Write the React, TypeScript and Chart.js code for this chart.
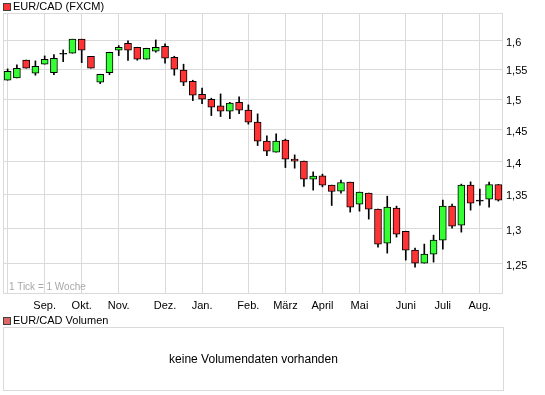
import React, { useEffect, useRef } from 'react';
import { Chart, registerables } from 'chart.js';

Chart.register(...registerables);

// Weekly candles (week start dates)
const weeks = [
  '2009-08-03', '2009-08-10', '2009-08-17', '2009-08-24', '2009-08-31', '2009-09-07', '2009-09-14', '2009-09-21',
  '2009-09-28', '2009-10-05', '2009-10-12', '2009-10-19', '2009-10-26', '2009-11-02', '2009-11-09', '2009-11-16',
  '2009-11-23', '2009-11-30', '2009-12-07', '2009-12-14', '2009-12-21', '2009-12-28', '2010-01-04', '2010-01-11',
  '2010-01-18', '2010-01-25', '2010-02-01', '2010-02-08', '2010-02-15', '2010-02-22', '2010-03-01', '2010-03-08',
  '2010-03-15', '2010-03-22', '2010-03-29', '2010-04-05', '2010-04-12', '2010-04-19', '2010-04-26', '2010-05-03',
  '2010-05-10', '2010-05-17', '2010-05-24', '2010-05-31', '2010-06-07', '2010-06-14', '2010-06-21', '2010-06-28',
  '2010-07-05', '2010-07-12', '2010-07-19', '2010-07-26', '2010-08-02', '2010-08-09',
];

const opens = [
  1.5316, 1.5355, 1.5659, 1.5435, 1.5590, 1.5445, 1.5763, 1.5780, 1.6027, 1.5728,
  1.5283, 1.5445, 1.5833, 1.5956, 1.5885, 1.5676, 1.5815, 1.5903, 1.5711, 1.5487,
  1.5299, 1.5081, 1.4998, 1.4888, 1.4801, 1.4948, 1.4817, 1.4622, 1.4318, 1.4145,
  1.4334, 1.4036, 1.4005, 1.3729, 1.3779, 1.3639, 1.3549, 1.3684, 1.3356, 1.3519,
  1.3282, 1.2792, 1.3297, 1.2961, 1.2693, 1.2512, 1.2637, 1.2834, 1.3326, 1.3049,
  1.3639, 1.3400, 1.3430, 1.3648,
];

const highs = [
  1.5509, 1.5578, 1.5659, 1.5647, 1.5733, 1.5756, 1.5838, 1.6027, 1.6027, 1.5728,
  1.5418, 1.5798, 1.5914, 1.5996, 1.5885, 1.5868, 1.6014, 1.5943, 1.5728, 1.5590,
  1.5316, 1.5182, 1.5015, 1.5086, 1.4948, 1.5036, 1.4904, 1.4757, 1.4402, 1.4434,
  1.4350, 1.4103, 1.4005, 1.3840, 1.3805, 1.3639, 1.3714, 1.3684, 1.3534, 1.3519,
  1.3282, 1.3473, 1.3326, 1.2961, 1.2721, 1.2778, 1.2905, 1.3415, 1.3356, 1.3654,
  1.3688, 1.3579, 1.3684, 1.3648,
];

const lows = [
  1.5316, 1.5355, 1.5521, 1.5401, 1.5590, 1.5411, 1.5634, 1.5780, 1.5617, 1.5521,
  1.5259, 1.5411, 1.5739, 1.5655, 1.5659, 1.5676, 1.5798, 1.5607, 1.5401, 1.5225,
  1.4975, 1.4925, 1.4729, 1.4713, 1.4680, 1.4762, 1.4590, 1.4249, 1.4092, 1.4145,
  1.3906, 1.3897, 1.3618, 1.3564, 1.3613, 1.3335, 1.3519, 1.3238, 1.3252, 1.3136,
  1.2735, 1.2651, 1.2877, 1.2554, 1.2457, 1.2512, 1.2526, 1.2707, 1.3006, 1.2948,
  1.3267, 1.3341, 1.3311, 1.3400,
];

const closes = [
  1.5469, 1.5521, 1.5521, 1.5555, 1.5676, 1.5693, 1.5763, 1.6027, 1.5833, 1.5521,
  1.5418, 1.5798, 1.5885, 1.5833, 1.5676, 1.5868, 1.5885, 1.5693, 1.5504, 1.5283,
  1.5064, 1.4998, 1.4866, 1.4801, 1.4932, 1.4817, 1.4622, 1.4318, 1.4161, 1.4318,
  1.4036, 1.4005, 1.3729, 1.3775, 1.3639, 1.3543, 1.3678, 1.3311, 1.3534, 1.3282,
  1.2778, 1.3311, 1.2919, 1.2693, 1.2512, 1.2637, 1.2834, 1.3326, 1.3034, 1.3639,
  1.3371, 1.3400, 1.3648, 1.3415,
];

// Month grid lines (week in which the month starts) and their labels
const monthTickWeeks = [
  '2009-08-03', '2009-08-31', '2009-09-28', '2009-10-26', '2009-11-30', '2009-12-28',
  '2010-02-01', '2010-03-01', '2010-03-29', '2010-04-26', '2010-05-31', '2010-06-28', '2010-07-26',
];
const monthTickLabels = ['', 'Sep.', 'Okt.', 'Nov.', 'Dez.', 'Jan.', 'Feb.', 'März', 'April', 'Mai', 'Juni', 'Juli', 'Aug.'];

const priceTicks = [1.25, 1.3, 1.35, 1.4, 1.45, 1.5, 1.55, 1.6];
const priceMin = 1.2092;
const priceMax = 1.6498;

const UP = '#33ff33';
const DOWN = '#ff3333';
const GRID = '#dadada';
const FONT = "'Liberation Sans', Arial, sans-serif";

const framePlugin = {
  id: 'frame',
  beforeDatasetsDraw(chart: any) {
    const { ctx, chartArea: a } = chart;
    ctx.save();
    ctx.strokeStyle = GRID;
    ctx.lineWidth = 1;
    ctx.strokeRect(Math.round(a.left) + 0.5, Math.round(a.top) + 0.5, Math.round(a.width) - 1, Math.round(a.height) - 1);
    ctx.restore();
  },
};

function CandleChart() {
  const ref = useRef<HTMLCanvasElement | null>(null);

  useEffect(() => {
    if (!ref.current) return;
    const bodies = weeks.map((_, i) => [opens[i], closes[i]]);
    const wicks = weeks.map((_, i) => [lows[i], highs[i]]);
    const colors = weeks.map((_, i) => (closes[i] > opens[i] ? UP : closes[i] < opens[i] ? DOWN : '#000000'));

    const chart = new Chart(ref.current, {
      type: 'bar',
      data: {
        labels: weeks,
        datasets: [
          {
            label: 'body',
            data: bodies as any,
            backgroundColor: colors,
            borderColor: '#000000',
            borderWidth: 1,
            borderSkipped: false,
            barThickness: 7,
            minBarLength: 1,
            grouped: false,
            order: 0,
          } as any,
          {
            label: 'wick',
            data: wicks as any,
            backgroundColor: '#000000',
            borderWidth: 0,
            barThickness: 1,
            grouped: false,
            order: 1,
          } as any,
        ],
      },
      options: {
        animation: false,
        responsive: false,
        devicePixelRatio: 1,
        layout: { padding: { left: 3, top: 13, right: 0, bottom: 0 } },
        plugins: {
          legend: { display: false },
          tooltip: { enabled: false },
        },
        scales: {
          x: {
            type: 'category',
            offset: true,
            border: { display: false },
            grid: {
              offset: false,
              drawTicks: false,
              lineWidth: 1,
              color: (c: any) => (monthTickWeeks.indexOf(weeks[c.index]) >= 0 ? GRID : 'rgba(0,0,0,0)'),
            },
            ticks: {
              autoSkip: false,
              maxRotation: 0,
              minRotation: 0,
              padding: 5,
              color: '#000000',
              font: { family: FONT, size: 11 },
              callback: (_v: any, idx: number) => {
                const k = monthTickWeeks.indexOf(weeks[idx]);
                return k >= 0 ? monthTickLabels[k] : '';
              },
            },
            afterFit: (s: any) => {
              s.height = 24;
            },
          },
          y: {
            type: 'logarithmic',
            position: 'right',
            min: priceMin,
            max: priceMax,
            border: { display: false },
            afterBuildTicks: (s: any) => {
              s.ticks = priceTicks.map((v) => ({ value: v }));
            },
            grid: { color: GRID, drawTicks: false, lineWidth: 1 },
            ticks: {
              padding: 3,
              labelOffset: 2,
              color: '#000000',
              font: { family: FONT, size: 11 },
              callback: (v: any) => String(v).replace('.', ','),
            },
            afterFit: (s: any) => {
              s.width = 42;
            },
          },
        },
      } as any,
      plugins: [framePlugin],
    });
    return () => chart.destroy();
  }, []);

  return <canvas ref={ref} width={545} height={318} style={{ position: 'absolute', left: 0, top: 0, width: 545, height: 318 }} />;
}

export default function App() {
  const txt: React.CSSProperties = { position: 'absolute', fontFamily: FONT, whiteSpace: 'nowrap', color: '#000' };
  return (
    <div style={{ position: 'absolute', left: 0, top: 0, width: 545, height: 395, background: '#fff', overflow: 'hidden' }}>
      <CandleChart />
      <div style={{ position: 'absolute', left: 3, top: 3, width: 6, height: 6, background: '#ff3333', border: '1px solid #404040' }} />
      <div style={{ ...txt, left: 13, top: 0, fontSize: 11, lineHeight: '13px' }}>EUR/CAD (FXCM)</div>
      <div style={{ ...txt, left: 9, top: 281, fontSize: 10, lineHeight: '12px', color: '#a8a8a8' }}>1 Tick = 1 Woche</div>
      <div style={{ position: 'absolute', left: 3, top: 317, width: 6, height: 6, background: '#dd6666', border: '1px solid #404040' }} />
      <div style={{ ...txt, left: 13, top: 314, fontSize: 11, lineHeight: '13px' }}>EUR/CAD Volumen</div>
      <div
        style={{
          position: 'absolute',
          left: 3,
          top: 327,
          width: 499,
          height: 62,
          border: `1px solid ${GRID}`,
          display: 'flex',
          alignItems: 'center',
          justifyContent: 'center',
          fontFamily: FONT,
          fontSize: 12,
          color: '#000',
        }}
      >
        keine Volumendaten vorhanden
      </div>
    </div>
  );
}
